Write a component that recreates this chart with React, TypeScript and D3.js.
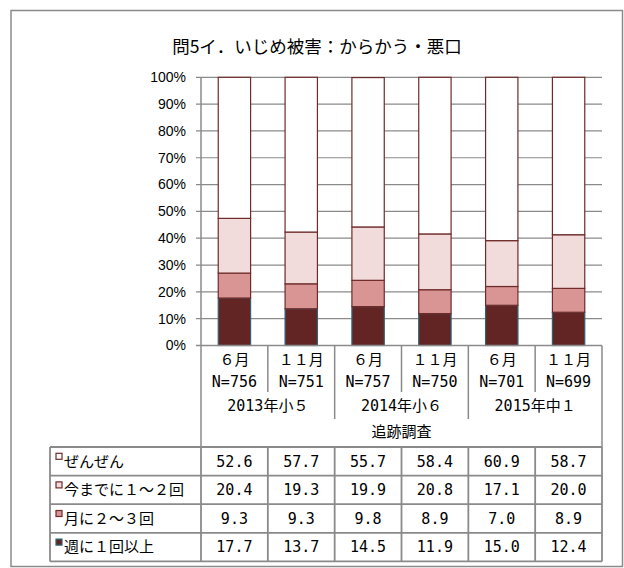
import React from "react";
import * as d3 from "d3";

const title = "問5イ．いじめ被害：からかう・悪口";
const categories = ["2013-06", "2013-11", "2014-06", "2014-11", "2015-06", "2015-11"];
const monthLabels = ["６月", "１１月", "６月", "１１月", "６月", "１１月"];
const nLabels = ["N=756", "N=751", "N=757", "N=750", "N=701", "N=699"];
const yearLabels = ["2013年小５", "2014年小６", "2015年中１"];
const surveyLabel = "追跡調査";
const yTicks = [0, 10, 20, 30, 40, 50, 60, 70, 80, 90, 100];

// table order (top to bottom)
const seriesNames = ["ぜんぜん", "今までに１～２回", "月に２～３回", "週に１回以上"];
const zenzen = [52.6, 57.7, 55.7, 58.4, 60.9, 58.7];
const imamade = [20.4, 19.3, 19.9, 20.8, 17.1, 20.0];
const tsuki = [9.3, 9.3, 9.8, 8.9, 7.0, 8.9];
const shuu = [17.7, 13.7, 14.5, 11.9, 15.0, 12.4];
const seriesValues = [zenzen, imamade, tsuki, shuu];
const seriesFill = ["#ffffff", "#f2dcdb", "#d99594", "#632523"];
const seriesStroke = ["#6e2b2a", "#6e2b2a", "#6e2b2a", "#2f6273"];

const W = 624;
const H = 568;
const plotL = 201;
const plotR = 602;
const plotT = 77.3;
const plotB = 345.5;
const row1B = 392;
const row2B = 419;
const tableT = 447;
const rowH = 28.6;
const tableL = 50;
const grid = "#8a8a8a";
const jp = "'Noto Sans CJK JP', sans-serif";
const mono = "'DejaVu Sans Mono', 'Liberation Mono', monospace";

// split text into ASCII runs (half-width monospace look) and others
function Runs({ s, monoAscii = true }: { s: string; monoAscii?: boolean }) {
  const parts = s.match(/[\x20-\x7e]+|[^\x20-\x7e]+/g) || [];
  return (
    <>
      {parts.map((p, i) =>
        /^[\x20-\x7e]+$/.test(p) && monoAscii ? (
          <tspan key={i} fontFamily={mono}>
            {p}
          </tspan>
        ) : (
          <tspan key={i}>{p}</tspan>
        )
      )}
    </>
  );
}

export default function App() {
  const x = d3
    .scaleBand<string>()
    .domain(categories)
    .range([plotL, plotR])
    .paddingInner(0.516)
    .paddingOuter(0.258);
  const step = x.step();
  const y = d3.scaleLinear().domain([0, 100]).range([plotB, plotT]);

  const rows = categories.map((c, i) => {
    const r: any = { cat: c };
    seriesNames.forEach((s, k) => (r[s] = seriesValues[k][i]));
    return r;
  });
  const stackKeys = [...seriesNames].reverse(); // bottom to top
  const stacked = d3.stack<any>().keys(stackKeys)(rows);

  const cellX = (i: number) => plotL + step * i;
  const txtStyle: React.CSSProperties = { fontFamily: jp, fontSize: 15 };

  return (
    <svg
      width={W}
      height={H}
      style={{ position: "absolute", left: 0, top: 0, background: "#fff" }}
    >
      <rect x={11} y={10.5} width={611.5} height={556} fill="#fff" stroke={grid} strokeWidth={1.5} />
      <text x={317} y={47} dy="0.35em" textAnchor="middle" fontFamily={jp} fontSize={17.5} fill="#000">
        <Runs s={title} monoAscii={false} />
      </text>

      {/* gridlines */}
      {yTicks.map((t) => (
        <g key={t}>
          <line x1={plotL - 5} x2={plotR} y1={y(t)} y2={y(t)} stroke={grid} strokeWidth={1.2} />
          <text
            x={186}
            y={y(t)}
            dy="0.35em"
            textAnchor="end"
            fontFamily="'Liberation Sans', Arial, sans-serif"
            fontSize={14}
            fill="#000"
          >
            {t}%
          </text>
        </g>
      ))}
      <line x1={plotL} x2={plotL} y1={plotT} y2={tableT} stroke={grid} strokeWidth={1.5} />

      {/* bars */}
      {stacked.map((layer) => {
        const k = seriesNames.indexOf(layer.key);
        return (
          <g key={layer.key}>
            {layer.map((d, i) => (
              <rect
                key={i}
                x={x(categories[i])!}
                width={x.bandwidth()}
                y={y(d[1])}
                height={y(d[0]) - y(d[1])}
                fill={seriesFill[k]}
                stroke={seriesStroke[k]}
                strokeWidth={1.2}
              />
            ))}
          </g>
        );
      })}
      <line x1={plotL - 5} x2={plotR} y1={plotB} y2={plotB} stroke={grid} strokeWidth={1.5} />

      {/* category axis area */}
      <line x1={plotR} x2={plotR} y1={plotB} y2={tableT} stroke={grid} strokeWidth={1.5} />
      {categories.map((c, i) =>
        i > 0 ? (
          <line
            key={c}
            x1={cellX(i)}
            x2={cellX(i)}
            y1={plotB}
            y2={i % 2 === 0 ? row2B : row1B}
            stroke={grid}
            strokeWidth={1.5}
          />
        ) : null
      )}
      {categories.map((c, i) => (
        <g key={c}>
          <text x={cellX(i) + step / 2} y={360} dy="0.35em" textAnchor="middle" style={txtStyle}>
            <Runs s={monthLabels[i]} />
          </text>
          <text x={cellX(i) + step / 2} y={381.5} dy="0.35em" textAnchor="middle" style={txtStyle}>
            <Runs s={nLabels[i]} />
          </text>
        </g>
      ))}
      {yearLabels.map((l, j) => (
        <text key={l} x={cellX(j * 2) + step} y={406} dy="0.35em" textAnchor="middle" style={txtStyle}>
          <Runs s={l} />
        </text>
      ))}
      <text x={(plotL + plotR) / 2} y={432} dy="0.35em" textAnchor="middle" style={txtStyle}>
        {surveyLabel}
      </text>

      {/* data table */}
      {seriesNames.map((s, k) => {
        const top = tableT + rowH * k;
        const cy = top + rowH / 2;
        return (
          <g key={s}>
            <rect x={56} y={cy - 8} width={6} height={6} fill={seriesFill[k]} stroke={seriesStroke[k]} strokeWidth={1.2} />
            <text x={64} y={cy} dy="0.35em" style={txtStyle}>
              <Runs s={s} />
            </text>
            {seriesValues[k].map((v, i) => (
              <text key={i} x={cellX(i) + step / 2} y={cy} dy="0.35em" textAnchor="middle" style={txtStyle}>
                <Runs s={v.toFixed(1)} />
              </text>
            ))}
          </g>
        );
      })}
      {d3.range(seriesNames.length + 1).map((k) => (
        <line
          key={k}
          x1={tableL}
          x2={plotR}
          y1={tableT + rowH * k}
          y2={tableT + rowH * k}
          stroke={grid}
          strokeWidth={1.8}
        />
      ))}
      {[tableL, ...d3.range(categories.length + 1).map((i) => cellX(i))].map((xx, i) => (
        <line
          key={i}
          x1={xx}
          x2={xx}
          y1={tableT}
          y2={tableT + rowH * seriesNames.length}
          stroke={grid}
          strokeWidth={1.8}
        />
      ))}
    </svg>
  );
}
